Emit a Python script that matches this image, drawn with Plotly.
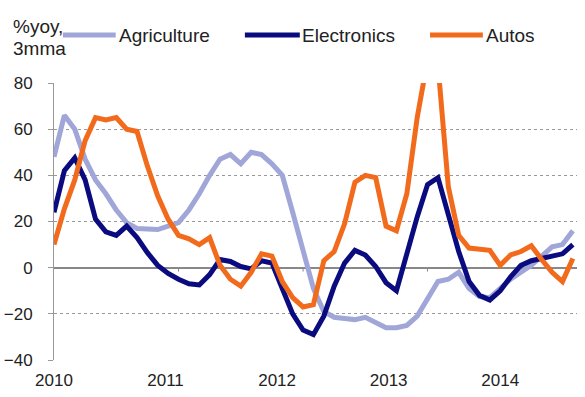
import plotly.graph_objects as go

# Monthly observations, Jan 2010 - Mar 2014 (%yoy, 3-month moving average)
months = [f"{y}-{m:02d}" for y in range(2010, 2015) for m in range(1, 13)][:51]

agriculture = [48, 66, 60, 47, 38, 32, 25, 19.5, 17, 16.5, 16.5, 18, 19.5, 25, 32,
               40, 47, 49, 45, 50, 49, 45, 40, 24, 8, -9, -19, -21.5, -22, -22.5,
               -21.5, -24, -26, -26, -25, -21, -13, -6, -5, -2, -9, -12.5, -13, -9,
               -5, -2, 1, 5, 9, 10, 16]
electronics = [24, 42, 47.5, 38, 21, 15.5, 14, 18, 13, 6.5, 1, -2.5, -5, -7, -7.5,
               -3, 3.5, 2.7, 0.5, -0.5, 3, 2, -9, -20, -27, -29, -21, -8, 2, 7.5,
               5.5, 0.5, -6.5, -10, 6, 22, 36, 39, 23, 7, -6, -12, -14, -10, -4, 1,
               3, 4, 4.7, 6, 10]
autos = [10, 25.5, 38, 55, 65, 64, 65, 60, 59, 44, 31, 21, 14, 12.5, 10, 13, 1, -5,
         -8, -2, 6, 5, -6, -13, -17, -16, 3, 7, 19, 37, 40, 39, 18, 16, 32, 65, 90,
         88, 35, 14, 8.5, 8, 7.5, 1, 5.5, 7, 9.5, 3.5, -2, -6, 4]

series_names = ["Agriculture", "Electronics", "Autos"]
series_colors = ["#A0A7D8", "#0B0B80", "#F26B1C"]

year_labels = ["2010", "2011", "2012", "2013", "2014"]
year_label_pos = [0, 10.75, 21.5, 32.25, 43]
year_tick_pos = [12, 24, 36, 48]
y_ticks = [-40, -20, 0, 20, 40, 60, 80]
unit_lines = ["%yoy,", "3mma"]

x = list(range(len(months)))
FONT = "Liberation Sans, Arial, sans-serif"
TEXT = "#222222"

fig = go.Figure()
for name, vals, col in zip(series_names, [agriculture, electronics, autos], series_colors):
    fig.add_trace(go.Scatter(x=x, y=vals, mode="lines", name=name,
                             line=dict(color=col, width=5), showlegend=False,
                             customdata=months,
                             hovertemplate="%{customdata}: %{y}<extra>" + name + "</extra>"))

# small year ticks sitting on the zero line
for t in year_tick_pos:
    fig.add_shape(type="line", xref="x", yref="y", x0=t, x1=t, y0=0, y1=-1.7,
                  line=dict(color="#888888", width=1), layer="below")

# hand-built legend along the top
legend_x = [(0.017, 0.118, 0.120), (0.365, 0.470, 0.470), (0.719, 0.820, 0.822)]
for (x0, x1, xt), name, col in zip(legend_x, series_names, series_colors):
    fig.add_shape(type="line", xref="paper", yref="paper", x0=x0, x1=x1,
                  y0=1.173, y1=1.173, line=dict(color=col, width=5))
    fig.add_annotation(text=name, xref="paper", yref="paper", x=xt, y=1.173,
                       xanchor="left", yanchor="middle", showarrow=False,
                       font=dict(family=FONT, size=19, color=TEXT))

# unit label, two lines in the top-left corner
for txt, yy in zip(unit_lines, [1.204, 1.124]):
    fig.add_annotation(text=txt, xref="paper", yref="paper", x=-0.083, y=yy,
                       xanchor="left", yanchor="middle", align="left", showarrow=False,
                       font=dict(family=FONT, size=19, color=TEXT))

fig.update_layout(
    width=585, height=397,
    margin=dict(l=54, r=8, t=83, b=37, autoexpand=False),
    paper_bgcolor="white", plot_bgcolor="white",
    font=dict(family=FONT, size=17, color=TEXT),
)
fig.update_xaxes(range=[0, 50.4], tickvals=year_label_pos, ticktext=year_labels,
                 ticks="", showgrid=False, zeroline=False, showline=False,
                 automargin=False, ticklabelstandoff=8,
                 tickfont=dict(size=17, color=TEXT))
fig.update_yaxes(range=[-40, 80], tickvals=y_ticks, ticks="outside", ticklen=5,
                 tickcolor="#999999", showline=True, linecolor="#999999", linewidth=1,
                 showgrid=True, gridcolor="#999999", griddash="dot", gridwidth=1,
                 zeroline=True, zerolinecolor="#888888", zerolinewidth=1.5,
                 automargin=False, ticklabelstandoff=12,
                 tickfont=dict(size=17, color=TEXT))

fig.write_html("out.html")
